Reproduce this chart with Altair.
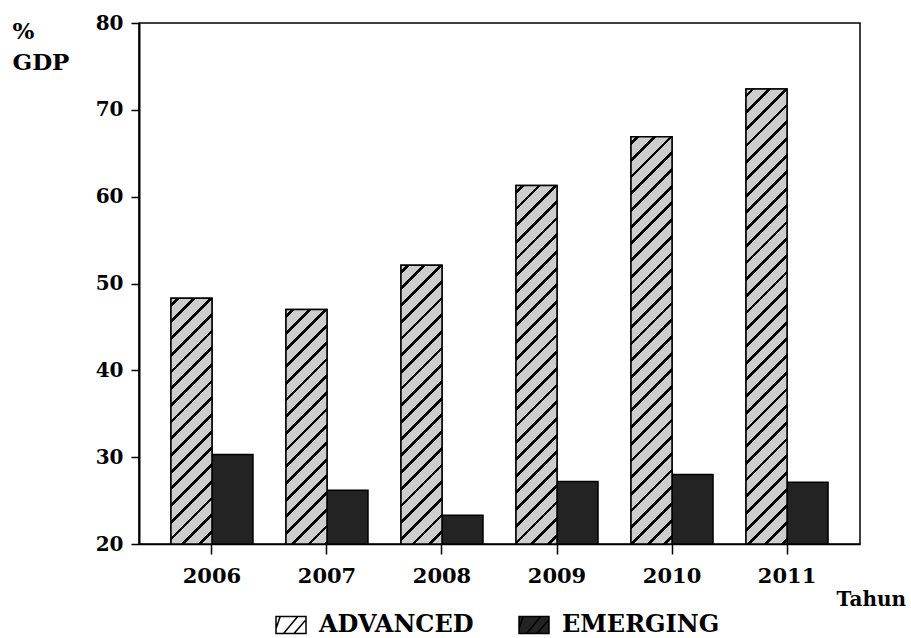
import math
import altair as alt
import pandas as pd

# Debt as % of GDP, advanced vs emerging economies
years = ["2006", "2007", "2008", "2009", "2010", "2011"]
advanced = [48.3, 47.0, 52.1, 61.3, 66.9, 72.4]
emerging = [30.3, 26.2, 23.3, 27.2, 28.0, 27.1]
series = ["ADVANCED", "EMERGING"]
y_ticks = [20, 30, 40, 50, 60, 70, 80]

# plot-area geometry
W, H = 721, 521
Y_MIN, Y_MAX = 20, 80
PAD_IN, PAD_OUT = 0.287, 0.278

FONT = "DejaVu Serif"
INK = "#000000"
HATCH_BG = "#cdcdcd"
DARK = "#232323"

df = pd.DataFrame(
    [{"year": y, "series": series[0], "value": a} for y, a in zip(years, advanced)]
    + [{"year": y, "series": series[1], "value": e} for y, e in zip(years, emerging)]
)

# width of one bar in pixels (band scale arithmetic)
step = W / (len(years) - PAD_IN + 2 * PAD_OUT)
bar_w = step * (1 - PAD_IN) / 2


def hatch_fill(h_px, w_px, period=16.7, line=3.8, phase=5.0):
    """Linear gradient that paints '/' diagonal stripes on a w x h box."""
    L = w_px + h_px
    denom = w_px * w_px + h_px * h_px
    stops = [{"offset": 0, "color": HATCH_BG}]
    k = 0
    while True:
        a = (phase + k * period) / L
        if a >= 1:
            break
        b = min(1.0, a + line / L)
        a_r, b_r = round(a, 5), round(b, 5)
        stops += [
            {"offset": a_r, "color": HATCH_BG},
            {"offset": a_r, "color": INK},
            {"offset": b_r, "color": INK},
            {"offset": b_r, "color": HATCH_BG},
        ]
        k += 1
    stops.append({"offset": 1, "color": HATCH_BG})
    return {
        "gradient": "linear",
        "x1": 0, "y1": 0,
        "x2": round(L * w_px / denom, 5),
        "y2": round(L * h_px / denom, 5),
        "stops": stops,
    }


x_enc = alt.X(
    "year:N",
    sort=years,
    scale=alt.Scale(paddingInner=PAD_IN, paddingOuter=PAD_OUT),
    axis=alt.Axis(
        title="Tahun",
        titleX=697, titleY=61, titleAlign="left", titleBaseline="alphabetic",
        titleFont=FONT, titleFontWeight="bold", titleFontSize=20, titleColor=INK,
        labelFont=FONT, labelFontWeight="bold", labelFontSize=21, labelColor=INK,
        labelAngle=0, labelPadding=11,
        tickSize=10, tickWidth=1.5, tickColor=INK,
        domainColor=INK, domainWidth=1.5, grid=False,
    ),
)
xo_enc = alt.XOffset(
    "series:N", scale=alt.Scale(domain=series, paddingInner=0, paddingOuter=0)
)
y_enc = alt.Y(
    "value:Q",
    scale=alt.Scale(domain=[Y_MIN, Y_MAX], nice=False, zero=False),
    axis=alt.Axis(
        values=y_ticks,
        title=["%", "GDP"],
        titleAngle=0, titleX=-127, titleY=15, titleAlign="left",
        titleBaseline="alphabetic", titleLineHeight=31,
        titleFont=FONT, titleFontWeight="bold", titleFontSize=23, titleColor=INK,
        labelFont=FONT, labelFontWeight="bold", labelFontSize=20, labelColor=INK,
        labelPadding=8, tickSize=8, tickWidth=1.5, tickColor=INK,
        domainColor=INK, domainWidth=2, grid=False,
    ),
)

legend_symbol = (
    "M-1,-0.567H1V0.567H-1Z "
    "M-1,0.25L-0.72,-0.567 "
    "M-0.5,0.567L0.45,-0.567 "
    "M0.2,0.567L0.95,-0.3"
)

# base bars: EMERGING in dark fill; ADVANCED ones get covered by the hatch layers
bars = (
    alt.Chart(df)
    .mark_bar(stroke=INK, strokeWidth=1.5)
    .encode(
        x=x_enc,
        xOffset=xo_enc,
        y=y_enc,
        y2=alt.datum(Y_MIN),
        color=alt.Color(
            "series:N",
            scale=alt.Scale(domain=series, range=["#ffffff", DARK]),
            legend=alt.Legend(
                title=None,
                orient="none",
                legendX=136,
                legendY=586,
                direction="horizontal",
                symbolType=legend_symbol,
                symbolSize=900,
                symbolStrokeColor=INK,
                symbolStrokeWidth=1.5,
                symbolOpacity=1,
                labelFont=FONT,
                labelFontWeight="bold",
                labelFontSize=24,
                labelColor=INK,
                labelOffset=12,
                columnPadding=42,
                padding=0,
            ),
        ),
    )
)

# hatched overlay for each ADVANCED bar
hatch_layers = []
for yr, v in zip(years, advanced):
    h_px = (v - Y_MIN) * H / (Y_MAX - Y_MIN)
    one = pd.DataFrame([{"year": yr, "series": series[0], "value": v}])
    hatch_layers.append(
        alt.Chart(one)
        .mark_bar(fill=hatch_fill(h_px, bar_w), stroke=INK, strokeWidth=1.5)
        .encode(x=x_enc, xOffset=xo_enc, y=y_enc, y2=alt.datum(Y_MIN))
    )

chart = (
    alt.layer(bars, *hatch_layers)
    .properties(
        width=W,
        height=H,
        autosize=alt.AutoSizeParams(type="none"),
        padding={"left": 139, "top": 23, "right": 911 - 139 - W, "bottom": 638 - 23 - H},
        background="white",
    )
    .configure_view(stroke=INK, strokeWidth=1.5)
    .configure_legend(labelFont=FONT, labelFontWeight="bold")
)

chart.save("out.html", embed_options={"renderer": "svg", "actions": False})
